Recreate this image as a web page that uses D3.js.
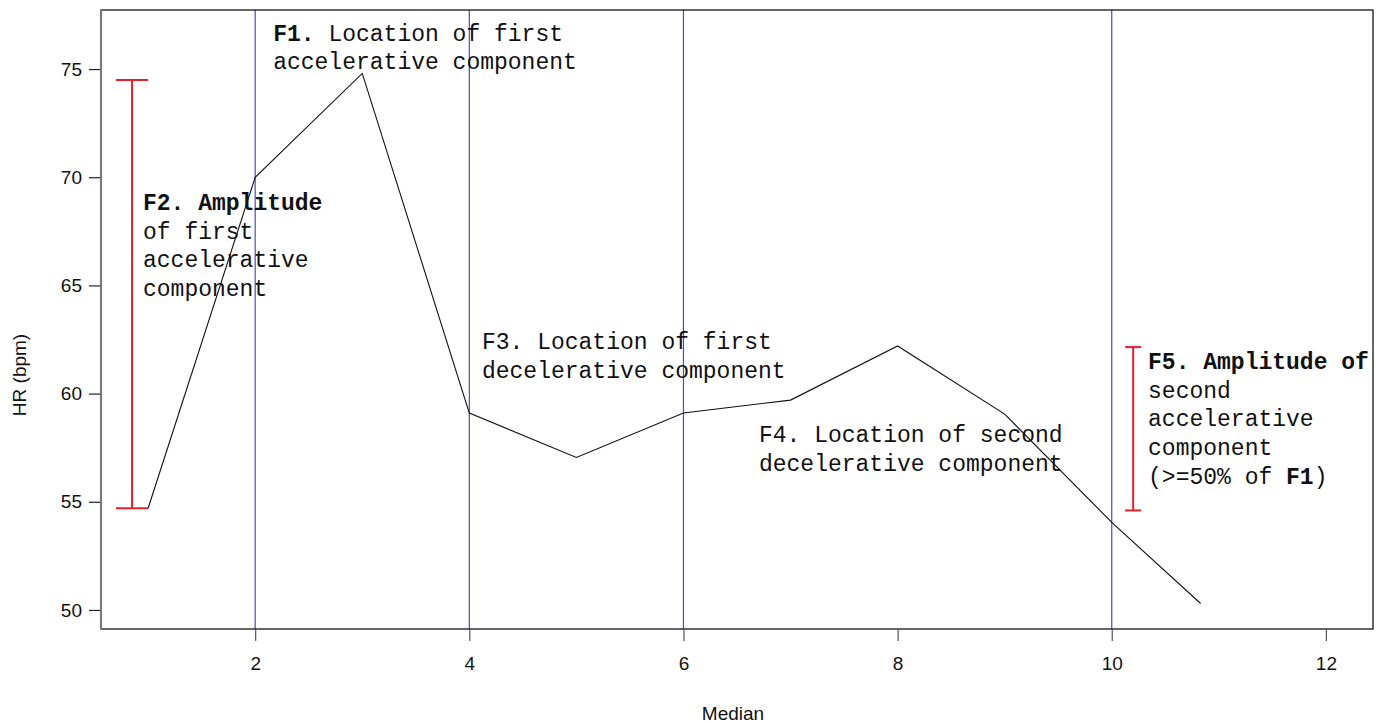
<!DOCTYPE html>
<html>
<head>
<meta charset="utf-8">
<script src="https://cdn.jsdelivr.net/npm/d3@7"></script>
<style>
  html, body { margin: 0; padding: 0; background: #fff; }
  svg { display: block; }
</style>
</head>
<body>
<svg id="chart" width="1383" height="723"></svg>
<script>
// Median heart-rate response profile
const medianX  = [1, 2, 3, 4, 5, 6, 7, 8, 9, 10, 10.83];
const hrValues = [54.7, 70.0, 74.8, 59.1, 57.05, 59.1, 59.7, 62.2, 59.05, 54.05, 50.3];

// axis ticks
const xTicks = [2, 4, 6, 8, 10, 12];
const yTicks = [50, 55, 60, 65, 70, 75];

// feature locations (vertical reference lines)
const featureLocations = [2, 4, 6, 10];

// amplitude brackets: [x, low, high]
const f2Bracket = [0.85, 54.7, 74.5];
const f5Bracket = [10.2, 54.6, 62.15];

// annotation texts, each line as runs of [text, bold]
const f1Lines = [[["F1.", true], [" Location of first", false]], [["accelerative component", false]]];
const f2Lines = [[["F2. Amplitude", true]], [["of first", false]], [["accelerative", false]], [["component", false]]];
const f3Lines = [[["F3. Location of first", false]], [["decelerative component", false]]];
const f4Lines = [[["F4. Location of second", false]], [["decelerative component", false]]];
const f5Lines = [[["F5. Amplitude of", true]], [["second", false]], [["accelerative", false]], [["component", false]], [["(>=50% of ", false], ["F1", true], [")", false]]];
// annotation anchors in data units: [x, y of first baseline]
const f1Anchor = [2.168, 76.32];
const f2Anchor = [0.952, 68.49];
const f3Anchor = [4.118, 62.06];
const f4Anchor = [6.705, 57.76];
const f5Anchor = [10.339, 61.14];

const svg = d3.select("#chart");
const margin = { left: 101, right: 10, top: 10, bottom: 94 };
const W = 1383, H = 723;
const x0 = margin.left, x1 = W - margin.right, y0 = margin.top, y1 = H - margin.bottom;

// R-style 4% padding around xlim = [1, 12]
const xlim = [1, 12], xpad = (xlim[1] - xlim[0]) * 0.04;
const x = d3.scaleLinear().domain([xlim[0] - xpad, xlim[1] + xpad]).range([x0, x1]);
const y = d3.scaleLinear().domain([49.12, 77.73]).range([y1, y0]);

svg.append("rect").attr("width", W).attr("height", H).attr("fill", "#fff");

// vertical feature lines
svg.append("g").selectAll("line").data(featureLocations).join("line")
  .attr("x1", d => x(d)).attr("x2", d => x(d))
  .attr("y1", y0).attr("y2", y1)
  .attr("stroke", "#4b4bc6").attr("stroke-width", 1.2);

// HR curve
const line = d3.line().x((d, i) => x(medianX[i])).y(d => y(d));
svg.append("path").datum(hrValues)
  .attr("d", line).attr("fill", "none")
  .attr("stroke", "#111").attr("stroke-width", 1.1);

// amplitude brackets
function bracket(b, capHalf) {
  const g = svg.append("g").attr("stroke", "#e8202a").attr("stroke-width", 2).attr("fill", "none");
  g.append("line").attr("x1", x(b[0])).attr("x2", x(b[0])).attr("y1", y(b[1])).attr("y2", y(b[2]));
  [b[1], b[2]].forEach(v => {
    g.append("line").attr("x1", x(b[0] - capHalf)).attr("x2", x(b[0] + capHalf))
      .attr("y1", y(v)).attr("y2", y(v));
  });
}
bracket(f2Bracket, 0.15);
bracket(f5Bracket, 0.075);

// annotations
function annotate(lines, anchor) {
  const t = svg.append("text")
    .attr("font-family", "'Liberation Mono', 'Courier New', monospace")
    .attr("font-size", 23).attr("fill", "#111");
  lines.forEach((runs, li) => {
    runs.forEach((r, ri) => {
      const ts = t.append("tspan").text(r[0]).attr("font-weight", r[1] ? "bold" : "normal")
        .style("white-space", "pre");
      if (ri === 0) ts.attr("x", x(anchor[0])).attr("y", y(anchor[1]) + li * 28.7);
    });
  });
  t.attr("xml:space", "preserve");
}
annotate(f1Lines, f1Anchor);
annotate(f2Lines, f2Anchor);
annotate(f3Lines, f3Anchor);
annotate(f4Lines, f4Anchor);
annotate(f5Lines, f5Anchor);

// plot box
svg.append("rect").attr("x", x0).attr("y", y0).attr("width", x1 - x0).attr("height", y1 - y0)
  .attr("fill", "none").attr("stroke", "#000").attr("stroke-width", 1.2);

// x axis
const xAxis = svg.append("g").attr("transform", `translate(0,${y1})`)
  .call(d3.axisBottom(x).tickValues(xTicks).tickSize(12).tickPadding(16).tickFormat(d3.format("d")));
xAxis.select(".domain").remove();
xAxis.selectAll(".tick line").attr("stroke", "#555").attr("stroke-width", 1.2);
xAxis.selectAll("text").attr("font-family", "'Liberation Sans', Arial, sans-serif")
  .attr("font-size", 19).attr("fill", "#111");

// y axis
const yAxis = svg.append("g").attr("transform", `translate(${x0},0)`)
  .call(d3.axisLeft(y).tickValues(yTicks).tickSize(12).tickPadding(7).tickFormat(d3.format("d")));
yAxis.select(".domain").remove();
yAxis.selectAll(".tick line").attr("stroke", "#222").attr("stroke-width", 1.2);
yAxis.selectAll("text").attr("font-family", "'Liberation Sans', Arial, sans-serif")
  .attr("font-size", 19).attr("fill", "#111");
svg.append("line").attr("x1", x0).attr("x2", x0).attr("y1", y0).attr("y2", y1)
  .attr("stroke", "#7a7a7a").attr("stroke-width", 2.2);

// axis titles
svg.append("text").attr("x", (x0 + x1) / 2 - 4).attr("y", 720)
  .attr("text-anchor", "middle").attr("font-family", "'Liberation Sans', Arial, sans-serif")
  .attr("font-size", 19).attr("fill", "#111").text("Median");
svg.append("text").attr("transform", `translate(26,375) rotate(-90)`)
  .attr("text-anchor", "middle").attr("font-family", "'Liberation Sans', Arial, sans-serif")
  .attr("font-size", 19).attr("fill", "#111").text("HR (bpm)");
</script>
</body>
</html>
